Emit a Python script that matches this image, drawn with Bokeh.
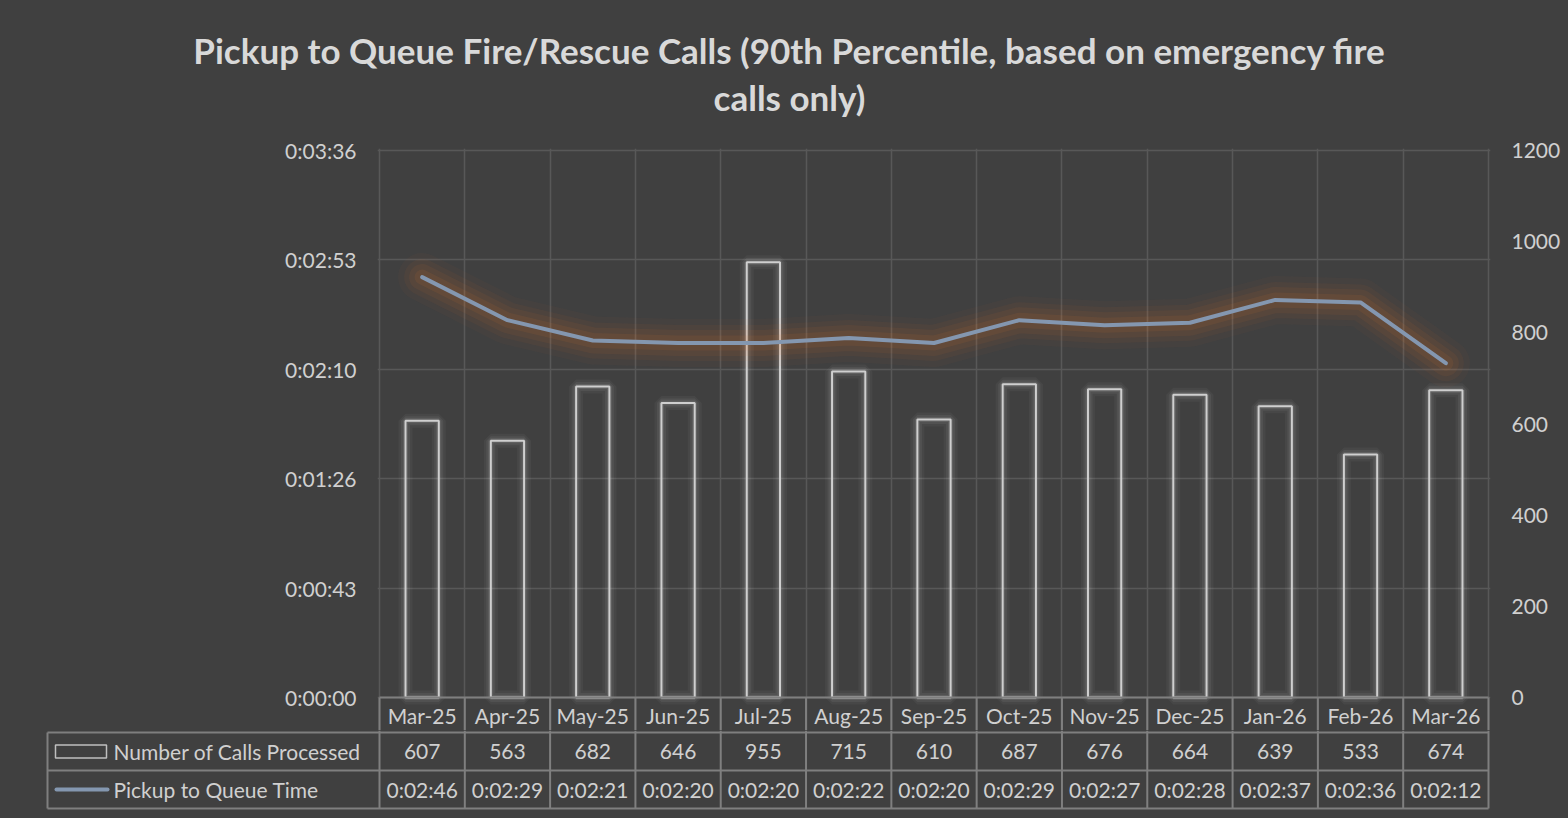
from bokeh.plotting import figure
from bokeh.models import Range1d, LinearAxis, FixedTicker, CustomJSTickFormatter, Grid
from bokeh.layouts import column
from bokeh.core.properties import value
from bokeh.embed import file_html
from bokeh.resources import INLINE

# ---------------- data ----------------
months = ["Mar-25", "Apr-25", "May-25", "Jun-25", "Jul-25", "Aug-25", "Sep-25",
          "Oct-25", "Nov-25", "Dec-25", "Jan-26", "Feb-26", "Mar-26"]
calls = [607, 563, 682, 646, 955, 715, 610, 687, 676, 664, 639, 533, 674]
pickup_sec = [166, 149, 141, 140, 140, 142, 140, 149, 147, 148, 157, 156, 132]
pickup_labels = ["0:02:46", "0:02:29", "0:02:21", "0:02:20", "0:02:20", "0:02:22", "0:02:20",
                 "0:02:29", "0:02:27", "0:02:28", "0:02:37", "0:02:36", "0:02:12"]
series_names = ["Number of Calls Processed", "Pickup to Queue Time"]
title_lines = ["Pickup to Queue Fire/Rescue Calls (90th Percentile, based on emergency fire",
               "calls only)"]
time_ticks = [0, 43.2, 86.4, 129.6, 172.8, 216]
count_ticks = [0, 200, 400, 600, 800, 1000, 1200]

# ---------------- style / layout ----------------
BG = "#404040"
GRID = "#585858"
TABLE = "#7f7f7f"
TXT = "#d0d0d0"
TITLE_C = "#d9d9d9"
LINE_C = "#8497B0"
GLOW = "#ED7D31"
BAR_C = "#cfcfcf"
FONT = "Lato"
FS = "21px"
BGSTYLE = {"background-color": BG}

W = 1568
H_TITLE = 125
H_TOP = 605
H_BOT = 88
FL, FR = 379, 1488          # plot-area edges (px)
PAD = 2
TOP_Y = 150 - H_TITLE       # plot-area top inside main figure
ZERO = 697 - H_TITLE        # y of value 0 inside main figure
n = len(months)
ppc = (FR - FL) / n         # px per category
TMAX, CMAX = 216.0, 1200.0
PLOT_H = ZERO - TOP_Y
pps = PLOT_H / TMAX         # px per second
ppn = PLOT_H / CMAX         # px per call


def dx(cx):
    return (cx - FL) / ppc - 0.5


def dy(cy):
    return (ZERO - cy) / pps


xs = list(range(n))
bounds = [i - 0.5 for i in range(n + 1)]


def base_fig(**kw):
    f = figure(output_backend="svg", toolbar_location=None,
               background_fill_color=BG, border_fill_color=BG, outline_line_color=None,
               styles=BGSTYLE, **kw)
    f.frame_align = False
    return f


# ---------------- title figure ----------------
tfig = base_fig(width=W, height=H_TITLE, x_range=Range1d(dx(0), dx(W)),
                y_range=Range1d(H_TITLE, 0), x_axis_type=None, y_axis_type=None,
                min_border_left=0, min_border_right=0, min_border_top=0,
                min_border_bottom=0)
tfig.text(x=[dx(789)] * 2, y=[49, 96], text=title_lines, text_align="center",
          text_baseline="middle", text_font=value(FONT), text_font_style="bold",
          text_font_size=value("35px"), text_color=TITLE_C)

# ---------------- main figure ----------------
top = base_fig(width=W, height=H_TOP,
               x_range=Range1d(dx(FL - PAD), dx(FR + PAD)),
               y_range=Range1d(dy(H_TOP), dy(TOP_Y - PAD)),
               x_axis_type=None,
               min_border_left=FL - PAD, min_border_right=W - FR - PAD,
               min_border_top=TOP_Y - PAD, min_border_bottom=0)

top.extra_y_ranges = {"cnt": Range1d(-(H_TOP - ZERO) / ppn, CMAX + PAD / ppn)}

ya = top.yaxis[0]
ya.ticker = FixedTicker(ticks=time_ticks)
ya.formatter = CustomJSTickFormatter(code="""
const s = Math.round(tick);
const h = Math.floor(s / 3600);
const m = Math.floor((s % 3600) / 60);
const ss = s % 60;
return h + ':' + String(m).padStart(2, '0') + ':' + String(ss).padStart(2, '0');
""")
right = LinearAxis(y_range_name="cnt", ticker=FixedTicker(ticks=count_ticks))
top.add_layout(right, "right")
for ax in (ya, right):
    ax.axis_line_color = None
    ax.major_tick_line_color = None
    ax.minor_tick_line_color = None
    ax.major_tick_in = 0
    ax.major_tick_out = 0
    ax.major_label_text_font = FONT
    ax.major_label_text_font_size = FS
    ax.major_label_text_color = TXT
ya.major_label_standoff = 21
right.major_label_standoff = 21

top.ygrid.grid_line_color = GRID
top.ygrid.grid_line_width = 1.5
top.add_layout(Grid(dimension=0, ticker=FixedTicker(ticks=bounds),
                    grid_line_color=GRID, grid_line_width=1.5))

# bars with soft white glow
for w, a in [(14, 0.04), (9, 0.06), (5, 0.09)]:
    top.vbar(x=xs, top=calls, width=0.39, bottom=0, y_range_name="cnt",
             fill_color=None, line_color="white", line_alpha=a, line_width=w)
top.vbar(x=xs, top=calls, width=0.39, bottom=0, y_range_name="cnt",
         fill_color=None, line_color=BAR_C, line_width=2)

# line with orange glow
for w, a in [(48, 0.035), (36, 0.05), (26, 0.065), (15, 0.085)]:
    top.line(xs, pickup_sec, line_color=GLOW, line_alpha=a, line_width=w,
             line_join="round", line_cap="round")
top.line(xs, pickup_sec, line_color=LINE_C, line_width=4,
         line_join="round", line_cap="round")

# data table header row (months)
top.segment(x0=bounds, y0=[0] * len(bounds), x1=bounds, y1=[dy(H_TOP + 5)] * len(bounds),
            line_color=TABLE, line_width=2)
top.segment(x0=[-0.5], y0=[0], x1=[n - 0.5], y1=[0], line_color=TABLE, line_width=2)
top.text(x=xs, y=[dy(ZERO + 17.5)] * n, text=months, text_align="center",
         text_baseline="middle", text_font=value(FONT), text_font_size=value(FS),
         text_color=TXT)

# ---------------- bottom figure (table rows) ----------------
rowpx = 38.0
bot = base_fig(width=W, height=H_BOT,
               x_range=Range1d(dx(0), dx(W)),
               y_range=Range1d(2 + 2 / rowpx - H_BOT / rowpx, 2 + 2 / rowpx),
               x_axis_type=None, y_axis_type=None,
               min_border_left=0, min_border_right=0,
               min_border_top=0, min_border_bottom=0)

LX = dx(47)
bot.segment(x0=[LX] * 3, y0=[0, 1, 2], x1=[n - 0.5] * 3, y1=[0, 1, 2],
            line_color=TABLE, line_width=2)
bot.segment(x0=[LX], y0=[0], x1=[LX], y1=[2], line_color=TABLE, line_width=2)
bot.segment(x0=bounds, y0=[0] * len(bounds), x1=bounds, y1=[2 + 2 / rowpx] * len(bounds),
            line_color=TABLE, line_width=2)

bot.text(x=xs, y=[1.5] * n, text=[str(c) for c in calls], text_align="center",
         text_baseline="middle", text_font=value(FONT), text_font_size=value(FS),
         text_color=TXT)
bot.text(x=xs, y=[0.5] * n, text=pickup_labels, text_align="center",
         text_baseline="middle", text_font=value(FONT), text_font_size=value(FS),
         text_color=TXT)

# legend keys
sh = 6.5 / rowpx
bot.quad(left=[dx(55)], right=[dx(106)], bottom=[1.5 - sh], top=[1.5 + sh],
         fill_color=None, line_color="#bfbfbf", line_width=1.5)
bot.segment(x0=[dx(56)], y0=[0.5], x1=[dx(107)], y1=[0.5],
            line_color=LINE_C, line_width=4, line_cap="round")
bot.text(x=[dx(113)] * 2, y=[1.5, 0.5], text=series_names, text_align="left",
         text_baseline="middle", text_font=value(FONT), text_font_size=value(FS),
         text_color=TXT)

layout = column(tfig, top, bot, spacing=0, styles=BGSTYLE)
open("out.html", "w").write(file_html(layout, INLINE))
